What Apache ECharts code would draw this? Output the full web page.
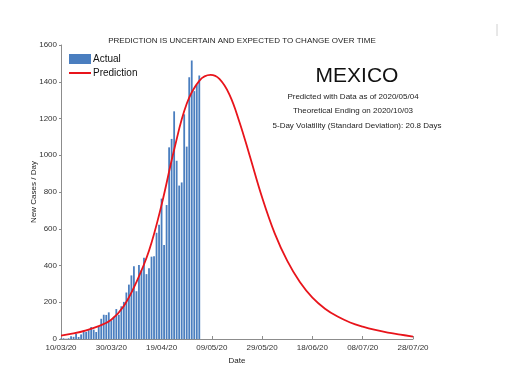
<!DOCTYPE html>
<html>
<head>
<meta charset="utf-8">
<script src="https://cdn.jsdelivr.net/npm/echarts@6/dist/echarts.min.js"></script>
<style>html,body{margin:0;padding:0;background:#fff;}#c{width:508px;height:381px;}</style>
</head>
<body>
<div id="c"></div>
<script>
// Days counted from 10/03/20
var xTickLabels = ['10/03/20','30/03/20','19/04/20','09/05/20','29/05/20','18/06/20','08/07/20','28/07/20'];
var yTicks = [0,200,400,600,800,1000,1200,1400,1600];
// Actual daily new cases, 10/03/20 .. 04/05/20
var actualValues = [3,4,1,4,15,12,29,11,25,46,39,48,65,51,38,70,110,132,131,145,101,121,163,132,178,202,253,296,346,396,260,403,375,442,353,385,448,450,578,622,764,511,729,1043,1089,1239,970,835,852,1223,1047,1425,1515,1349,1383,1434];
// Prediction curve read at these days
var predDays   = [0,5,10,15,20,25,30,35,40,45,50,55,59.5,63,67,71,75,80,85,90,95,100,105,110,115,120,125,130,135,140];
var predValues = [18,30,47,70,105,180,310,480,730,1030,1280,1405,1437,1415,1330,1180,1000,770,575,425,310,225,165,122,90,67,49,35,24,13];

var titleText = 'PREDICTION IS UNCERTAIN AND EXPECTED TO CHANGE OVER TIME';
var countryText = 'MEXICO';
var infoLines = ['Predicted with Data as of 2020/05/04','Theoretical Ending on 2020/10/03','5-Day Volatility (Standard Deviation): 20.8 Days'];

var barData = actualValues.map(function(v,i){return [i,v];});
var lineData = predDays.map(function(d,i){return [d,predValues[i]];});

var chart = echarts.init(document.getElementById('c'));
var font = 'Liberation Sans, Arial, sans-serif';
var lineIcon = 'path://M0,0h22v0.01h-22z M0,4.1h22v1.8h-22z M0,10h22v0.01h-22z';
chart.setOption({
  animation:false,
  backgroundColor:'#fff',
  textStyle:{fontFamily:font},
  title:[
    {text:titleText,left:237,textAlign:'center',top:32,textStyle:{fontSize:8,fontWeight:'normal',color:'#222',fontFamily:font}},
    {text:countryText,left:352,textAlign:'center',top:61,textStyle:{fontSize:21,fontWeight:'normal',color:'#111',fontFamily:font}},
    {text:infoLines[0],left:348,textAlign:'center',top:88,textStyle:{fontSize:8,fontWeight:'normal',color:'#222',fontFamily:font}},
    {text:infoLines[1],left:348,textAlign:'center',top:102,textStyle:{fontSize:8,fontWeight:'normal',color:'#222',fontFamily:font}},
    {text:infoLines[2],left:352,textAlign:'center',top:117,textStyle:{fontSize:8,fontWeight:'normal',color:'#222',fontFamily:font}}
  ],
  legend:{
    orient:'vertical',left:69,top:54,padding:0,itemWidth:22,itemHeight:10,itemGap:4,
    textStyle:{fontSize:10,color:'#111',fontFamily:font,padding:[0,0,0,-3]},
    data:[{name:'Actual',icon:'rect'},{name:'Prediction',icon:lineIcon,itemStyle:{color:'#e8141b'}}]
  },
  grid:{left:61,right:95,top:45,bottom:42},
  xAxis:{
    type:'value',min:0,max:140,interval:20,
    name:'Date',nameLocation:'middle',nameGap:18,nameMoveOverlap:false,
    nameTextStyle:{fontSize:8,color:'#222'},
    axisLine:{lineStyle:{color:'#8c8c8c'}},
    axisTick:{inside:true,length:3,lineStyle:{color:'#8c8c8c'}},
    axisLabel:{fontSize:8,color:'#333',margin:5,formatter:function(v){return xTickLabels[Math.round(v/20)];}},
    splitLine:{show:false}
  },
  yAxis:{
    type:'value',min:yTicks[0],max:yTicks[yTicks.length-1],interval:200,
    name:'New Cases / Day',nameLocation:'middle',nameGap:23,nameMoveOverlap:false,
    nameTextStyle:{fontSize:8,color:'#222'},
    axisLine:{show:true,lineStyle:{color:'#8c8c8c'}},
    axisTick:{show:true,inside:false,length:2,lineStyle:{color:'#8c8c8c'}},
    axisLabel:{fontSize:8,color:'#333',margin:4,formatter:function(v){return String(v);}},
    splitLine:{show:false}
  },
  series:[
    {name:'Actual',type:'bar',data:barData,barWidth:1.8,itemStyle:{color:'#4a7ebf'}},
    {name:'Prediction',type:'line',data:lineData,smooth:0.4,symbol:'none',lineStyle:{color:'#e8141b',width:1.8},itemStyle:{color:'#e8141b'},z:5}
  ],
  graphic:[
    {type:'line',shape:{x1:497,y1:24,x2:497,y2:36},style:{stroke:'#d0d0d0',lineWidth:1}}
  ]
});
</script>
</body>
</html>
